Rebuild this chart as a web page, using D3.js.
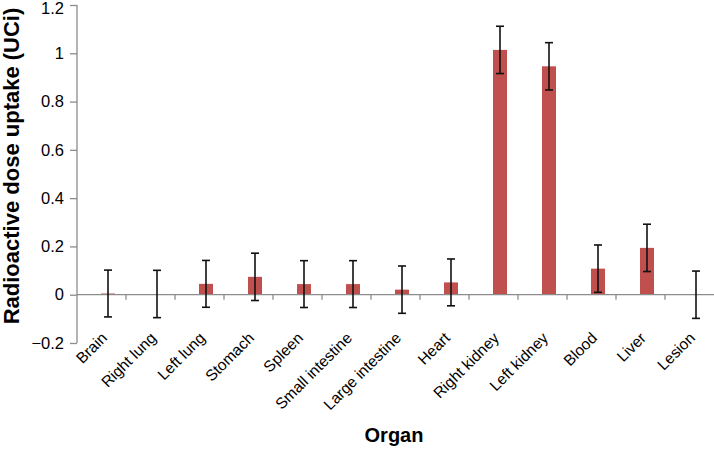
<!DOCTYPE html>
<html><head><meta charset="utf-8">
<script src="https://cdn.jsdelivr.net/npm/d3@7"></script>
<style>body{margin:0;background:#fff}svg{display:block}</style>
</head><body>
<svg id="c" width="714" height="449"></svg>
<script>
const categories = ["Brain","Right lung","Left lung","Stomach","Spleen","Small intestine","Large intestine","Heart","Right kidney","Left kidney","Blood","Liver","Lesion"];
const values = [0.005,0.003,0.045,0.074,0.044,0.044,0.021,0.051,1.014,0.946,0.108,0.194,0.0];
const errors = [0.097,0.098,0.097,0.098,0.097,0.097,0.098,0.097,0.098,0.098,0.098,0.098,0.098];
const yTicks = [-0.2,0,0.2,0.4,0.6,0.8,1,1.2];

const svg = d3.select("#c");
const font = "Liberation Sans, Arial, sans-serif";
const x = d3.scaleBand().domain(categories).range([77,714]);
const y = d3.scaleLinear().domain([-0.2,1.2]).range([343,5]);
const off = 6.5, bw = 14, cap = 4;
const cx = d => x(d) + x.bandwidth()/2 + off;

// y axis
const ya = svg.append("g").attr("transform","translate(77,0)")
  .call(d3.axisLeft(y).tickValues(yTicks).tickSize(7).tickPadding(6).tickFormat(d=>d3.format("")(+d.toFixed(1))));
ya.select(".domain").attr("stroke","#8c8c8c").attr("stroke-width",1.3).attr("d","M0,5V343");
ya.selectAll(".tick line").attr("stroke","#8c8c8c").attr("stroke-width",1.3);
ya.selectAll(".tick text").attr("font-family",font).attr("font-size",16.5).attr("fill","#000")
  .attr("dy",(d)=> d===1.2 ? "0.5em" : "0.32em");

// bars
svg.append("g").selectAll("rect").data(categories).join("rect")
  .attr("x", d=>cx(d)-bw/2).attr("width",bw)
  .attr("y",(d,i)=>y(Math.max(0,values[i]))).attr("height",(d,i)=>Math.abs(y(values[i])-y(0)))
  .attr("fill","#c0504d");

// x axis line and ticks
svg.append("line").attr("x1",77).attr("x2",714).attr("y1",y(0)).attr("y2",y(0)).attr("stroke","#8c8c8c").attr("stroke-width",1.3);
svg.append("g").selectAll("line").data(categories.slice(0,12)).join("line")
  .attr("x1",d=>x(d)+x.bandwidth()).attr("x2",d=>x(d)+x.bandwidth())
  .attr("y1",y(0)).attr("y2",y(0)+5).attr("stroke","#8c8c8c").attr("stroke-width",1.3);

// error bars
const eb = svg.append("g").attr("stroke","#111").attr("stroke-width",1.6);
categories.forEach((c,i)=>{
  const X = cx(c), t = y(values[i]+errors[i]), b = y(values[i]-errors[i]);
  eb.append("line").attr("x1",X).attr("x2",X).attr("y1",t).attr("y2",b);
  eb.append("line").attr("x1",X-cap).attr("x2",X+cap).attr("y1",t).attr("y2",t);
  eb.append("line").attr("x1",X-cap).attr("x2",X+cap).attr("y1",b).attr("y2",b);
});

// x labels
svg.append("g").selectAll("text").data(categories).join("text")
  .attr("transform",d=>`translate(${cx(d)},${339}) rotate(-45)`)
  .attr("text-anchor","end").attr("font-family",font).attr("font-size",15.5).attr("fill","#000")
  .text(d=>d);

// titles
svg.append("text").attr("x",394).attr("y",442).attr("text-anchor","middle")
  .attr("font-family",font).attr("font-size",20).attr("font-weight","bold").text("Organ");
svg.append("text").attr("transform","translate(19,166) rotate(-90)").attr("text-anchor","middle")
  .attr("font-family",font).attr("font-size",22).attr("font-weight","bold").text("Radioactive dose uptake (UCi)");
</script>
</body></html>
